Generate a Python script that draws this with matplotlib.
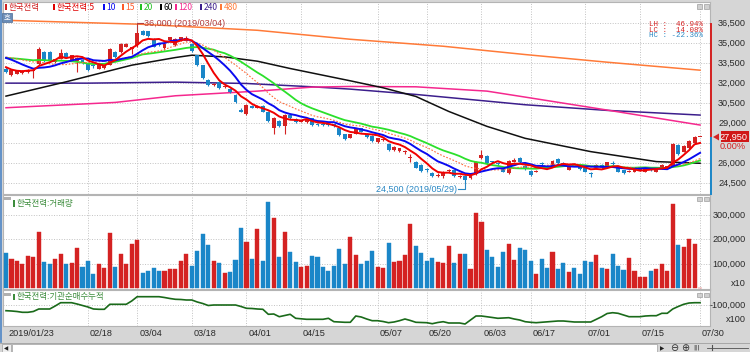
import numpy as np
import pandas as pd
import matplotlib
matplotlib.use('Agg')
import matplotlib.pyplot as plt
from matplotlib.patches import Rectangle, Polygon
from matplotlib.lines import Line2D
from matplotlib.transforms import blended_transform_factory

# ---------------- data ----------------
holidays = ['2019-02-04', '2019-02-05', '2019-02-06', '2019-03-01',
            '2019-05-01', '2019-05-06', '2019-06-06']
dates = [d for d in pd.bdate_range('2019-01-23', '2019-07-30')
         if d.strftime('%Y-%m-%d') not in holidays]

opens = [33100, 32600, 32700, 32750, 32850, 32900, 33450, 34350, 34350, 33600,
         33850, 34300, 33750, 33650, 33750, 33500, 33400, 33100, 33150, 33400,
         34350, 34350, 34750, 34600, 34850, 35950, 35900, 35350, 35000, 34650,
         35250, 34850, 35250, 35200, 34950, 34100, 33350, 32250, 31850, 32100,
         31700, 31550, 31100, 30000, 29650, 30300, 30150, 30300, 29850, 28650,
         29150, 28750, 29600, 29300, 29100, 29050, 29350, 28950, 28900, 28950,
         28900, 28650, 28150, 27900, 28200, 28600, 28200, 28050, 27550, 27700,
         27450, 26950, 26900, 26850, 26350, 26100, 25850, 25500, 25250, 25000,
         25000, 25400, 25450, 24950, 25050, 24850, 25150, 26350, 26550, 26100,
         26000, 25600, 25250, 26100, 26400, 25800, 25400, 25350, 26000, 25800,
         25800, 26300, 25950, 25500, 25850, 25750, 25600, 25250, 25600, 25850,
         25800, 26000, 25600, 25450, 25350, 25350, 25450, 25350, 25500, 25350,
         25600, 25700, 25750, 27350, 26850, 27100, 27500, 27950]
highs = [33200, 33050, 33000, 33000, 33050, 33050, 34700, 34400, 34400, 33850,
         34600, 34350, 34150, 33950, 33800, 33550, 33450, 33450, 33450, 34650,
         34400, 35000, 35000, 34750, 36000, 36000, 35950, 35400, 35050, 35000,
         35500, 35400, 35500, 35550, 35000, 34150, 33400, 32300, 32000, 32150,
         31800, 31600, 31150, 30100, 30400, 30350, 30350, 30350, 29900, 29450,
         29200, 29650, 29650, 29350, 29250, 29350, 29400, 29000, 28950, 29000,
         28950, 28700, 28200, 28200, 28650, 28650, 28250, 28100, 27900, 27850,
         27500, 27250, 27150, 27000, 26700, 26150, 25900, 25600, 25300, 25250,
         25400, 25550, 25500, 25100, 25100, 25200, 26150, 26950, 26600, 26150,
         26050, 25650, 26200, 26350, 26450, 25850, 25450, 25450, 26100, 25850,
         26200, 26350, 26050, 25750, 25900, 25800, 25650, 25300, 25900, 25900,
         26100, 26150, 25650, 25500, 25450, 25650, 25550, 25600, 25550, 25650,
         25900, 25800, 27500, 27400, 27350, 27700, 28000, 27950]
lows = [32800, 32550, 32650, 32700, 32800, 32350, 33400, 33600, 33600, 33500,
        33800, 33950, 33700, 32850, 33450, 32950, 33150, 33050, 33100, 33350,
        33900, 34300, 34700, 34200, 34700, 35600, 35500, 34700, 34800, 34500,
        35200, 34800, 35200, 35150, 34350, 33300, 32300, 31800, 31800, 31550,
        31650, 31250, 30500, 29800, 29600, 30100, 30100, 29800, 29100, 28200,
        28700, 28150, 29300, 29000, 29050, 29000, 28800, 28800, 28800, 28800,
        28700, 28050, 27700, 27850, 28150, 28300, 27900, 27600, 27500, 27650,
        26900, 26900, 26850, 26700, 26100, 25600, 25350, 25350, 24950, 24950,
        24850, 25350, 24950, 24900, 24500, 24800, 25100, 26300, 25950, 25950,
        25850, 25300, 25200, 26050, 26000, 25500, 25050, 25300, 25800, 25600,
        25750, 25950, 25800, 25450, 25750, 25500, 25300, 24950, 25550, 25550,
        25750, 25850, 25300, 25200, 25300, 25300, 25400, 25300, 25400, 25300,
        25550, 25650, 25700, 26600, 26800, 27050, 27450, 27950]
closes = [32850, 33000, 32950, 32950, 32950, 33000, 34600, 33650, 33650, 33800,
          34300, 34000, 34100, 33900, 33500, 33000, 33300, 33400, 33400, 34600,
          33950, 34950, 34950, 34700, 35800, 35650, 35550, 34750, 34850, 34950,
          35450, 35350, 35450, 35400, 34400, 33350, 32350, 31850, 31950, 31600,
          31750, 31300, 30550, 29850, 30350, 30150, 30300, 29850, 29150, 29400,
          28750, 29600, 29350, 29050, 29200, 29300, 28850, 28850, 28850, 28850,
          28750, 28100, 27800, 28150, 28600, 28350, 27950, 27650, 27850, 27800,
          26950, 27200, 27100, 26900, 26450, 25650, 25400, 25450, 25000, 25100,
          25350, 25450, 25000, 25050, 24700, 25150, 26100, 26600, 26000, 26050,
          25900, 25350, 26150, 26250, 26050, 25550, 25100, 25400, 25950, 25650,
          26150, 26000, 25900, 25700, 25800, 25550, 25350, 25200, 25850, 25600,
          26050, 25950, 25350, 25250, 25400, 25600, 25500, 25550, 25450, 25600,
          25850, 25750, 27450, 26650, 27300, 27650, 27950, 27950]
# closes before 2019/01/23 (inferred from where the moving averages start)
prior_closes = [33500, 33600, 33700, 33800, 33900, 34000, 34100, 34100, 34200, 34100,
                34400, 34700, 34800, 34600, 34500, 33900, 33400, 33100, 32750]

# volume as displayed (x10)
volumes = [143000, 120000, 113000, 98000, 133000, 129000, 231000, 106000, 101000, 120000,
           141000, 98000, 103000, 163000, 88000, 112000, 57000, 101000, 83000, 227000,
           88000, 141000, 101000, 182000, 199000, 64000, 73000, 83000, 73000, 71000,
           79000, 79000, 113000, 139000, 93000, 152000, 222000, 177000, 112000, 103000,
           63000, 67000, 116000, 248000, 190000, 120000, 244000, 113000, 351000, 286000,
           128000, 230000, 147000, 109000, 87000, 91000, 132000, 128000, 88000, 71000,
           93000, 160000, 98000, 211000, 136000, 101000, 113000, 152000, 87000, 82000,
           186000, 107000, 112000, 136000, 263000, 174000, 144000, 113000, 126000, 107000,
           105000, 173000, 103000, 141000, 139000, 79000, 306000, 271000, 156000, 128000,
           87000, 150000, 180000, 114000, 163000, 156000, 112000, 57000, 122000, 84000,
           147000, 79000, 102000, 68000, 84000, 60000, 112000, 106000, 136000, 82000,
           79000, 141000, 90000, 75000, 125000, 71000, 45000, 48000, 71000, 79000,
           98000, 71000, 343000, 177000, 167000, 201000, 180000, 0]

# institutional cumulative net buying (thousands, as displayed x100)
inst_cum_k = [-111.4, -112, -113, -114.6, -114.6, -113, -108, -108, -108, -102,
              -95.4, -95.4, -95.4, -98, -101, -104, -108, -108.6, -108.6, -98.6,
              -98.6, -98.6, -98.6, -92, -83.4, -83.4, -83.4, -83.4, -83.4, -85,
              -87, -88.6, -89, -90, -90, -94, -97, -101, -100, -100,
              -100, -100, -100, -103, -106.6, -107, -108, -108.6, -118.6, -118,
              -123.4, -121, -118.6, -126.6, -127.5, -128.6, -128.6, -128.6, -128.6, -126.6,
              -133.4, -134, -134.6, -134.6, -122, -124, -128, -131.4, -131.4, -133,
              -135.4, -134, -131.4, -128, -131, -134.6, -135, -135.4, -137.4, -135,
              -133.4, -136, -136, -136, -138, -130, -122, -122, -123.4, -125,
              -126.6, -126, -125.4, -128, -130, -133.4, -134.6, -135.4, -134.6, -134,
              -133, -132, -132, -133, -134, -134, -134, -134, -128.6, -123.4,
              -117, -115.4, -116.6, -120, -123.4, -123.4, -123.4, -122, -121.4, -121.4,
              -116.6, -116.6, -108, -103, -98.6, -96, -95.4, -95.4]

# long moving averages (trading-day index, value)
ma60_days = [0, 11, 23, 31, 34, 40, 46, 52, 63, 69, 75, 81, 88, 95, 101, 107, 113, 119, 127]
ma60_vals = [31025, 32100, 33350, 33925, 34100, 33975, 33650, 33100, 32175, 31650, 31000,
             29875, 28750, 27850, 27350, 26850, 26475, 26100, 25975]
ma120_days = [0, 20, 31, 46, 56, 63, 75, 88, 95, 110, 127]
ma120_vals = [30150, 30550, 31050, 31400, 31700, 31750, 31725, 31400, 30950, 29975, 28850]
ma240_days = [0, 15, 31, 44, 56, 63, 75, 88, 95, 110, 127]
ma240_vals = [32000, 32000, 32075, 31975, 31725, 31550, 31150, 30650, 30375, 29950, 29600]
ma480_days = [0, 25, 46, 63, 80, 95, 110, 127]
ma480_vals = [36725, 36425, 35975, 35300, 34775, 34150, 33575, 32975]

tick_dates = ['2019-01-23', '2019-02-18', '2019-03-04', '2019-03-18', '2019-04-01', '2019-04-15',
              '2019-05-07', '2019-05-20', '2019-06-03', '2019-06-17', '2019-07-01', '2019-07-15',
              '2019-07-30']
tick_labels = ['2019/01/23', '02/18', '03/04', '03/18', '04/01', '04/15', '05/07', '05/20',
               '06/03', '06/17', '07/01', '07/15', '07/30']
price_grid = [24500, 26000, 27500, 29000, 30500, 32000, 33500, 35000, 36500]
price_labels = [24500, 26000, 29000, 30500, 32000, 33500, 35000, 36500]
vol_grid = [100000, 200000, 300000]
inst_grid = [-100000]

# ---------------- layout ----------------
W, H = 750, 352
X0, DX = 6.0, 5.465
RED = '#D42222'
BLUE = '#1A86C8'
GRID = '#C2C2C2'
NUMF = 'Liberation Sans'
KR = ['Noto Sans CJK KR', 'DejaVu Sans']

fig = plt.figure(figsize=(7.5, 3.52), dpi=100)
fig.patch.set_facecolor('#D6D6D6')


def frac_rect(x0, y0, x1, y1):
    return [x0 / W, 1 - y1 / H, (x1 - x0) / W, (y1 - y0) / H]


def fig_rect(x0, y0, x1, y1, **kw):
    fig.patches.append(Rectangle((x0 / W, 1 - y1 / H), (x1 - x0) / W, (y1 - y0) / H,
                                 transform=fig.transFigure, **kw))


def fig_line(xs, ys, **kw):
    fig.lines.append(Line2D([x / W for x in xs], [1 - y / H for y in ys],
                            transform=fig.transFigure, **kw))


def fig_text(x, y, s, **kw):
    fig.text(x / W, 1 - y / H, s, **kw)


N = len(closes)
idx = np.arange(N)
xlim = ((3 - X0) / DX, (710 - X0) / DX)


def p_of_y(y):
    return 36500 - (y - 23.3) * 75.2


def v_of_y(y):
    return (288.4 - y) / 24.5 * 100000


def i_of_y(y):
    return -100000 - (y - 305) * 2000


ax_p = fig.add_axes(frac_rect(3, 2, 710, 194))
ax_v = fig.add_axes(frac_rect(3, 195, 710, 289))
ax_i = fig.add_axes(frac_rect(3, 290, 710, 326))
for ax in (ax_p, ax_v, ax_i):
    ax.set_facecolor('white')
    ax.set_xlim(*xlim)
    ax.set_xticks([])
    ax.set_yticks([])
    for s in ax.spines.values():
        s.set_color('#B4B4B4')
        s.set_linewidth(0.8)
ax_p.set_ylim(p_of_y(194), p_of_y(2))
ax_v.set_ylim(v_of_y(289), v_of_y(195))
ax_i.set_ylim(i_of_y(326), i_of_y(290))

date_index = {d.strftime('%Y-%m-%d'): k for k, d in enumerate(dates)}
tick_idx = [date_index[d] for d in tick_dates]

dot = (0, (1, 1.6))
for ax in (ax_p, ax_v, ax_i):
    for ti in tick_idx[1:]:
        ax.axvline(ti, color=GRID, lw=0.7, ls=dot, zorder=1)
for p in price_grid:
    ax_p.axhline(p, color=GRID, lw=0.7, ls=dot, zorder=1)
for v in vol_grid:
    ax_v.axhline(v, color=GRID, lw=0.7, ls=dot, zorder=1)
for v in inst_grid:
    ax_i.axhline(v, color=GRID, lw=0.7, ls=dot, zorder=1)

# ---------------- price panel ----------------
o = np.array(opens, float)
c = np.array(closes, float)
hi = np.array(highs, float)
lo = np.array(lows, float)
up = c >= o
cols = np.where(up, RED, BLUE)

# long moving averages
ax_p.plot(ma480_days, ma480_vals, color='#FF7A38', lw=1.1, zorder=2)
ax_p.plot(ma240_days, ma240_vals, color='#3C1E8C', lw=1.1, zorder=2)
ax_p.plot(ma120_days, ma120_vals, color='#F5288E', lw=1.1, zorder=2)
ax_p.plot(ma60_days, ma60_vals, color='#101010', lw=1.1, zorder=2)

ax_p.vlines(idx, lo, hi, colors=cols, lw=0.8, zorder=4)
ax_p.bar(idx, np.maximum(np.abs(c - o), 60), bottom=np.minimum(o, c), width=0.72,
         color=cols, lw=0, zorder=4)

full = pd.Series(prior_closes + closes, dtype=float)
npre = len(prior_closes)


def ma(n):
    return full.rolling(n).mean().to_numpy()[npre:]


ax_p.plot(idx, ma(20), color='#2BE02B', lw=1.3, zorder=5)
ax_p.plot(idx, ma(15), color='#FF6A3A', lw=0.8, ls=(0, (1.5, 1.5)), zorder=5)
ax_p.plot(idx, ma(10), color='#0A0AF0', lw=1.4, zorder=5)
ax_p.plot(idx, ma(5), color='#F00000', lw=1.4, zorder=5)

# high / low annotations
imax = int(np.argmax(hi))
imin = int(np.argmin(lo))
hc = '#B43C3C'
lc = '#2A88C4'
ya = p_of_y(23.0)
ax_p.plot([imax, imax, imax + 1.1], [hi[imax], ya, ya], color=hc, lw=0.8, zorder=6)
ax_p.text(imax + 1.2, ya, f"{int(hi[imax]):,} ({dates[imax].strftime('%Y/%m/%d')})",
          color=hc, fontsize=6.5, family=NUMF, va='center', ha='left', zorder=6)
yb = p_of_y(189.0)
ax_p.plot([imin - 1.3, imin, imin], [yb, yb, lo[imin]], color=lc, lw=0.8, zorder=6)
ax_p.text(imin - 1.45, yb, f"{int(lo[imin]):,} ({dates[imin].strftime('%Y/%m/%d')})",
          color=lc, fontsize=6.5, family=NUMF, va='center', ha='right', zorder=6)

# LH / LC / HC
last = c[-1]
LH = (hi.max() - lo.min()) / lo.min() * 100
LC = (last - lo.min()) / lo.min() * 100
HC = (last - hi.max()) / hi.max() * 100
for k, (lab, val, colr) in enumerate([('LH', LH, RED), ('LC', LC, RED), ('HC', HC, lc)]):
    fig_text(703, 24.5 + 5.6 * k, f"{lab} : {val:6.2f}%", color=colr, fontsize=5.4,
             family='Liberation Mono', ha='right', va='center')

# legend row
legend_items = [('한국전력', '#D02020', 5), ('한국전력:5', '#E00000', 53), ('10', '#0A0AF0', 103),
                ('15', '#FF5A2A', 122), ('20', '#22C022', 140), ('60', '#000000', 160),
                ('120', '#F5288E', 175), ('240', '#3C1E8C', 200), ('480', '#FF7A38', 220)]
for lab, colr, x in legend_items:
    fig_rect(x, 4, x + 2, 10, facecolor=colr, lw=0)
    fig_text(x + 3.5, 7.2, lab, color=colr, fontsize=6.1, family=KR, va='center', ha='left')
fig_rect(2, 12.5, 12, 21.5, facecolor='#6A8CB6', edgecolor='#4C6C96', lw=0.5)
fig_text(7, 17, '호', color='white', fontsize=5.3, family=KR, ha='center', va='center')

# ---------------- volume panel ----------------
ax_v.bar(idx, volumes, width=0.75, color=cols, edgecolor=cols, lw=0.3, zorder=3)

# ---------------- institutional panel ----------------
ax_i.plot(idx, np.array(inst_cum_k) * 1000, color='#1A6A1A', lw=1.2, zorder=3)

# panel titles and small buttons
green = '#3C8C3C'
fig_rect(13, 200, 14.8, 206.5, facecolor=green, lw=0)
fig_text(16.3, 203.5, '한국전력:거래량', color=green, fontsize=6.1, family=KR, va='center')
fig_rect(13, 293.5, 14.8, 300, facecolor=green, lw=0)
fig_text(16.3, 297, '한국전력:기관순매수누적', color=green, fontsize=6.1, family=KR, va='center')
for y0 in (196.5, 292.5):
    fig_rect(4, y0, 11, y0 + 3, facecolor='#B0B0B0', lw=0)
for y0 in (4, 196.5, 292.5):
    fig_rect(697, y0, 702, y0 + 4.5, facecolor='#D0D0D0', edgecolor='#8C8C8C', lw=0.4)
    fig_rect(703.5, y0, 708.5, y0 + 4.5, facecolor='#D0D0D0', edgecolor='#8C8C8C', lw=0.4)

# ---------------- right axis labels ----------------
tp = blended_transform_factory(fig.transFigure, ax_p.transData)
for p in price_labels:
    ax_p.text(746 / W, p, f"{p:,}", transform=tp, ha='right', va='center', fontsize=6.6,
              family=NUMF, color='#2A2A2A', clip_on=False)
tv = blended_transform_factory(fig.transFigure, ax_v.transData)
for v in vol_grid:
    ax_v.text(746 / W, v, f"{v:,}", transform=tv, ha='right', va='center', fontsize=6.6,
              family=NUMF, color='#2A2A2A', clip_on=False)
fig_text(746, 284, 'x10', ha='right', va='center', fontsize=6.6, family=NUMF, color='#2A2A2A')
ti_ = blended_transform_factory(fig.transFigure, ax_i.transData)
for v in inst_grid:
    ax_i.text(746 / W, v, f"{v:,}", transform=ti_, ha='right', va='center', fontsize=6.6,
              family=NUMF, color='#2A2A2A', clip_on=False)
fig_text(746, 319.5, 'x100', ha='right', va='center', fontsize=6.6, family=NUMF, color='#2A2A2A')

# current price marker
ycur = 23.3 + (36500 - last) / 75.2
fig_line([711, 711], [24, ycur - 0.8], color=RED, lw=1.4)
fig_line([711, 711], [ycur + 0.8, 194], color=BLUE, lw=1.4)
tri = [(713 / W, 1 - ycur / H), (719 / W, 1 - (ycur - 3.5) / H), (719 / W, 1 - (ycur + 3.5) / H)]
fig.patches.append(Polygon(tri, closed=True, transform=fig.transFigure, facecolor=RED, lw=0))
fig_rect(720.5, ycur - 5.5, 748.5, ycur + 5.5, facecolor='#D01818', lw=0)
fig_text(747, ycur, f"{int(last):,}", color='white', ha='right', va='center', fontsize=6.6,
         family=NUMF)
chg = (c[-1] - c[-2]) / c[-2] * 100
fig_text(746, ycur + 10, f"{chg:.2f}%", color=RED, ha='right', va='center', fontsize=6.6,
         family=NUMF)

# ---------------- date axis ----------------
for ti, lab in zip(tick_idx, tick_labels):
    fig_text(X0 + DX * ti + 2, 334, lab, ha='left', va='center', fontsize=6.6, family=NUMF,
             color='#2A2A2A')

# ---------------- bottom scrollbar ----------------
fig_line([0, 750], [342.5, 342.5], color='#A0A0A0', lw=0.6)
fig_rect(12, 343.5, 657, 353, facecolor='white', edgecolor='#A0A0A0', lw=0.5)
fig_rect(1.5, 343.5, 11, 353, facecolor='#F0F0F0', edgecolor='#A0A0A0', lw=0.5)
fig_text(6.2, 348.5, '◀', ha='center', va='center', fontsize=4, color='#202020', family='DejaVu Sans')
fig_text(662, 348.5, '▶', ha='center', va='center', fontsize=4, color='#202020', family='DejaVu Sans')
fig_text(674, 348, '⊖', ha='center', va='center', fontsize=7, color='#303030', family='DejaVu Sans')
fig_text(685, 348, '⊕', ha='center', va='center', fontsize=7, color='#303030', family='DejaVu Sans')
fig_text(696, 347.5, '|||', ha='center', va='center', fontsize=4.5, color='#303030', family='DejaVu Sans')
fig_line([707, 748], [347.5, 347.5], color='#505050', lw=0.6)
fig_line([712, 712], [345, 350], color='#505050', lw=0.8)

# left frame
fig_line([0.8, 0.8], [0, 342], color='#4F86C6', lw=1.2)

fig.savefig('out.png', dpi=100, facecolor=fig.get_facecolor())
